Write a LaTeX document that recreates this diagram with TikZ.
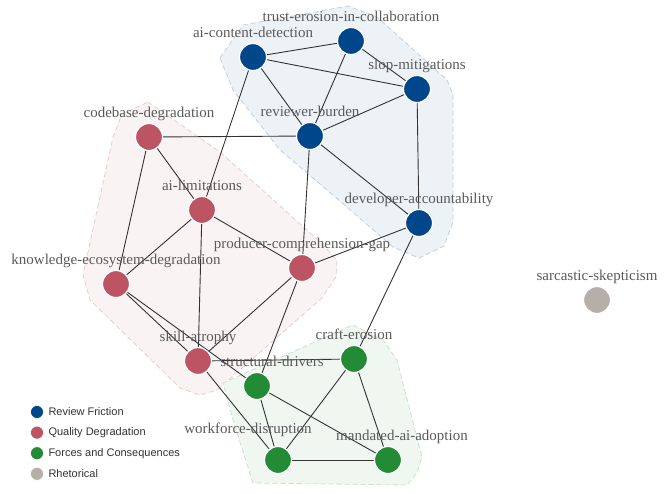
\documentclass[tikz,border=0pt]{standalone}
\usepackage{fontspec}
\setmainfont{Liberation Serif}
\setsansfont{Liberation Sans}
\usetikzlibrary{positioning}
\definecolor{friction}{HTML}{00468B}
\definecolor{quality}{HTML}{BC5464}
\definecolor{forces}{HTML}{238A36}
\definecolor{rhetoric}{HTML}{B5AFA8}
\definecolor{linkgray}{HTML}{333333}
\definecolor{taggray}{HTML}{5A5A5A}
\pgfdeclarelayer{hulls}
\pgfdeclarelayer{links}
\pgfsetlayers{hulls,links,main}

\begin{document}
\begin{tikzpicture}[x=1pt,y=-1pt,
  topic/.style={circle,draw=white,line width=1.2pt,minimum size=27pt,inner sep=0pt},
  tag/.style={font=\fontsize{15}{16}\selectfont,text=taggray,inner sep=0pt,anchor=base,label distance=5.5pt},
  link/.style={draw=linkgray,line width=0.9pt},
  hull/.style={line width=0.8pt,dash pattern=on 5pt off 3pt},
  key/.style={circle,draw=white,line width=0.6pt,minimum size=13pt,inner sep=0pt},
  keytext/.style={font=\sffamily\fontsize{11}{12}\selectfont,text=linkgray,inner sep=0pt}]
\useasboundingbox (0,0) rectangle (668,493);

\node[topic,fill=friction,label={[tag]above:ai-content-detection}] (AC) at (253,57) {};
\node[topic,fill=friction,label={[tag]above:trust-erosion-in-collaboration}] (TE) at (351,41) {};
\node[topic,fill=friction,label={[tag]above:slop-mitigations}] (SM) at (417,89) {};
\node[topic,fill=friction,label={[tag]above:reviewer-burden}] (RB) at (310,136) {};
\node[topic,fill=friction,label={[tag]above:developer-accountability}] (DA) at (419,223) {};
\node[topic,fill=quality,label={[tag]above:codebase-degradation}] (CD) at (149,137) {};
\node[topic,fill=quality,label={[tag]above:ai-limitations}] (AL) at (202,210) {};
\node[topic,fill=quality,label={[tag]above:producer-comprehension-gap}] (PG) at (302,268) {};
\node[topic,fill=quality,label={[tag]above:knowledge-ecosystem-degradation}] (KE) at (116,284) {};
\node[topic,fill=quality,label={[tag]above:skill-atrophy}] (SA) at (198,361) {};
\node[topic,fill=forces,label={[tag,xshift=15pt]above:structural-drivers}] (SD) at (257,386) {};
\node[topic,fill=forces,label={[tag]above:craft-erosion}] (CE) at (354,359) {};
\node[topic,fill=forces,label={[tag,xshift=-30pt,label distance=12pt]above:workforce-disruption}] (WD) at (278,460) {};
\node[topic,fill=forces,label={[tag,xshift=14pt,label distance=5pt]above:mandated-ai-adoption}] (MA) at (388,460) {};
\node[topic,fill=rhetoric,label={[tag]above:sarcastic-skepticism}] (SS) at (597,300) {};

\begin{pgfonlayer}{hulls}
\draw[hull,fill=friction!7,draw=friction!25] (220,58) -- (243,25) -- (348,6) -- (377,17) -- (447,80)
  -- (453,95) -- (453,222) -- (444,246) -- (419,258) -- (393,247) -- (333,195) -- (280,150)
  -- (233,90) -- cycle;
\draw[hull,fill=quality!7,draw=quality!30] (148,102) -- (220,152) -- (318,240) -- (337,260)
  -- (336,277) -- (322,298) -- (217,390) -- (200,395) -- (180,388) -- (90,300) -- (83,275)
  -- (113,137) -- (122,114) -- cycle;
\draw[hull,fill=forces!7,draw=forces!25] (353,325) -- (383,340) -- (397,360) -- (422,457)
  -- (417,473) -- (407,485) -- (253,483) -- (233,420) -- (225,390) -- (223,383) -- cycle;
\end{pgfonlayer}

\begin{pgfonlayer}{links}
\draw[link] (AC) -- (TE);
\draw[link] (AC) -- (SM);
\draw[link] (AC) -- (RB);
\draw[link] (AC) -- (AL);
\draw[link] (TE) -- (SM);
\draw[link] (TE) -- (RB);
\draw[link] (SM) -- (RB);
\draw[link] (SM) -- (DA);
\draw[link] (RB) -- (DA);
\draw[link] (RB) -- (CD);
\draw[link] (RB) -- (PG);
\draw[link] (DA) -- (PG);
\draw[link] (DA) -- (CE);
\draw[link] (CD) -- (AL);
\draw[link] (CD) -- (KE);
\draw[link] (AL) -- (KE);
\draw[link] (AL) -- (PG);
\draw[link] (AL) -- (SA);
\draw[link] (PG) -- (SA);
\draw[link] (PG) -- (SD);
\draw[link] (KE) -- (SA);
\draw[link] (KE) -- (SD);
\draw[link] (SA) -- (CE);
\draw[link] (SA) -- (WD);
\draw[link] (SD) -- (WD);
\draw[link] (SD) -- (MA);
\draw[link] (CE) -- (WD);
\draw[link] (CE) -- (MA);
\draw[link] (WD) -- (MA);
\end{pgfonlayer}

\node[key,fill=friction] (K1) at (37,412) {};
\node[key,fill=quality] (K2) [below=7pt of K1] {};
\node[key,fill=forces] (K3) [below=7pt of K2] {};
\node[key,fill=rhetoric] (K4) [below=7pt of K3] {};
\node[keytext] (T1) [right=4.5pt of K1] {Review Friction};
\node[keytext] (T2) [right=4.5pt of K2] {Quality Degradation};
\node[keytext] (T3) [right=4.5pt of K3] {Forces and Consequences};
\node[keytext] (T4) [right=4.5pt of K4] {Rhetorical};
\end{tikzpicture}
\end{document}
